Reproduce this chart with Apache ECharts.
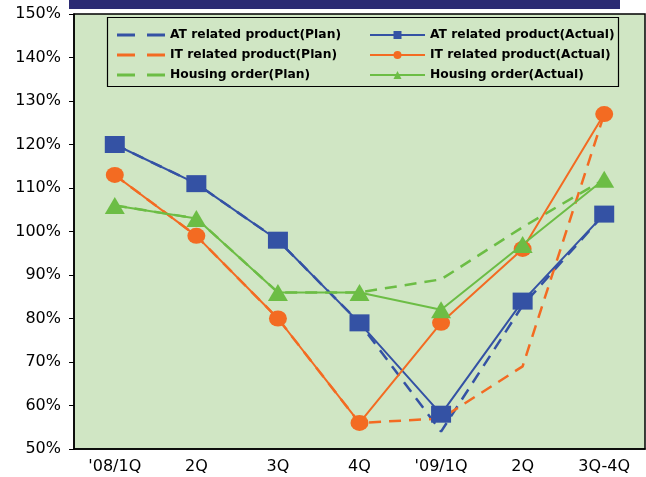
<!DOCTYPE html>
<html>
<head>
<meta charset="utf-8">
<script src="https://cdn.jsdelivr.net/npm/echarts@6/dist/echarts.min.js"></script>
<style>html,body{margin:0;padding:0;background:#fff;}#c{width:646px;height:477px;}</style>
</head>
<body>
<div id="c"></div>
<script>
var categories = ["'08/1Q", "2Q", "3Q", "4Q", "'09/1Q", "2Q", "3Q-4Q"];
var yTicks = [50, 60, 70, 80, 90, 100, 110, 120, 130, 140, 150];
var atPlan = [120, 111, 98, 79, 54, 83, 104];
var atActual = [120, 111, 98, 79, 58, 84, 104];
var itPlan = [113, 99, 80, 56, 57, 69, 127];
var itActual = [113, 99, 80, 56, 79, 96, 127];
var housingPlan = [106, 103, 86, 86, 89, 101, 112];
var housingActual = [106, 103, 86, 86, 82, 97, 112];

var BLUE = '#3452a4', ORANGE = '#f36b22', GREEN = '#6cbd45';
var dash = [12, 8];
var FONT = '"DejaVu Sans", Arial, sans-serif';

function plan(name, data, color) {
  return {
    name: name, type: 'line', data: data, symbol: 'none', z: 2,
    lineStyle: { color: color, width: 2.5, type: dash },
    itemStyle: { color: color }
  };
}
function actual(name, data, color, symbol, size) {
  return {
    name: name, type: 'line', data: data, symbol: symbol, symbolSize: size, z: 3,
    lineStyle: { color: color, width: 2 },
    itemStyle: { color: color }
  };
}

var dashIcon = 'path://M0,0h18v3h-18z M30,0h18v3h-18z';
var chart = echarts.init(document.getElementById('c'));
var legendText = { fontFamily: FONT, fontSize: 12.3, fontWeight: 'bold', color: '#000', lineHeight: 14 };
chart.setOption({
  animation: false,
  backgroundColor: '#fff',
  grid: { left: 74, right: 1, top: 14, bottom: 28, show: true, backgroundColor: '#d0e6c4', borderColor: '#000', borderWidth: 1.5 },
  graphic: [
    { type: 'rect', shape: { x: 69, y: 0, width: 551, height: 9 }, style: { fill: '#2b2b73' }, z: 10 },
    { type: 'rect', shape: { x: 107.5, y: 17.5, width: 511, height: 69 }, style: { fill: 'none', stroke: '#000', lineWidth: 1.2 }, z: 10 }
  ],
  legend: [
    {
      orient: 'vertical', left: 112, top: 23, itemWidth: 48, itemHeight: 3, itemGap: 6,
      textStyle: legendText,
      data: [
        { name: 'AT related product(Plan)', icon: dashIcon },
        { name: 'IT related product(Plan)', icon: dashIcon },
        { name: 'Housing order(Plan)', icon: dashIcon }
      ]
    },
    {
      orient: 'vertical', left: 364, top: 23, itemWidth: 55, itemHeight: 10, itemGap: 6,
      textStyle: legendText,
      data: ['AT related product(Actual)', 'IT related product(Actual)', 'Housing order(Actual)']
    }
  ],
  xAxis: {
    type: 'category', data: categories, boundaryGap: true,
    axisLine: { lineStyle: { color: '#000', width: 1.5 } },
    axisTick: { inside: true, length: 5, lineStyle: { color: '#000' } },
    axisLabel: { color: '#000', fontSize: 16, fontFamily: FONT, margin: 10 },
    splitLine: { show: false }
  },
  yAxis: {
    type: 'value', min: yTicks[0], max: yTicks[yTicks.length - 1], interval: 10,
    axisLine: { show: true, lineStyle: { color: '#000', width: 1.5 } },
    axisTick: { show: true, length: 5, lineStyle: { color: '#000' } },
    axisLabel: { color: '#000', fontSize: 16, fontFamily: FONT, margin: 13, formatter: '{value}%' },
    splitLine: { show: false }
  },
  series: [
    plan('AT related product(Plan)', atPlan, BLUE),
    plan('IT related product(Plan)', itPlan, ORANGE),
    plan('Housing order(Plan)', housingPlan, GREEN),
    actual('AT related product(Actual)', atActual, BLUE, 'rect', [20, 17]),
    actual('IT related product(Actual)', itActual, ORANGE, 'circle', [18, 16]),
    actual('Housing order(Actual)', housingActual, GREEN, 'triangle', [20, 17])
  ]
});
</script>
</body>
</html>
